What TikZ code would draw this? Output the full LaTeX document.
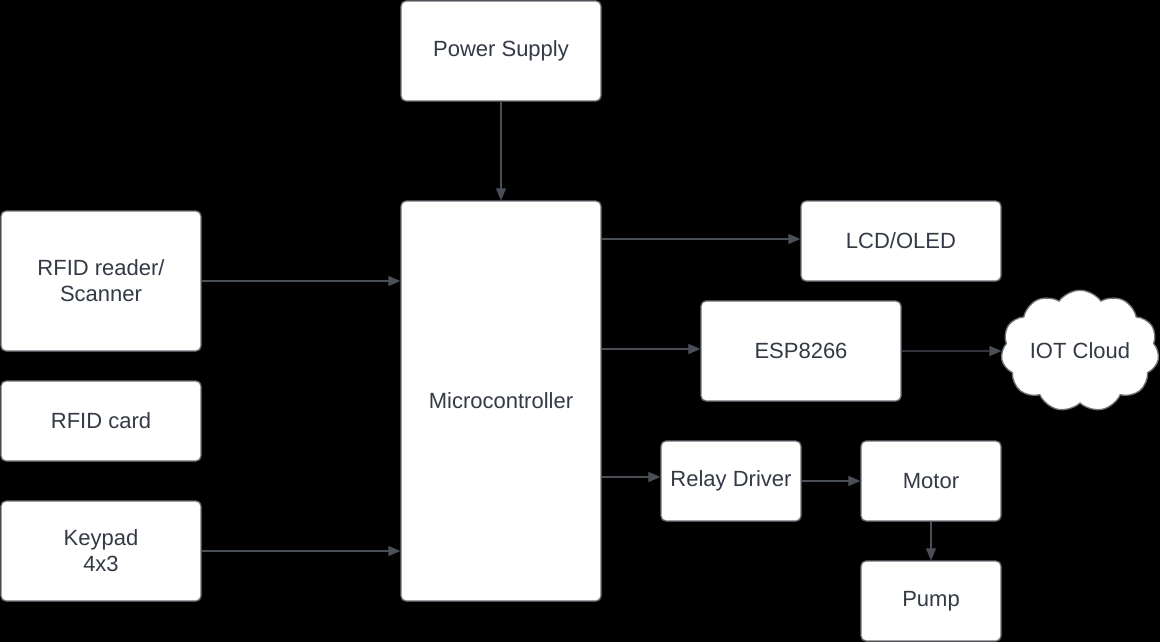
\documentclass[tikz,border=0pt]{standalone}
\usepackage{fontspec}
\setmainfont{Liberation Sans}
\usetikzlibrary{arrows.meta,shapes.symbols}
\definecolor{boxline}{HTML}{6B6F76}
\definecolor{txt}{HTML}{333A45}
\definecolor{arr}{HTML}{4A4F58}
\tikzset{
  blk/.style={draw=boxline, line width=1.3pt, fill=white, rounded corners=5pt,
    inner sep=0pt, text=txt, align=center, font=\fontsize{22pt}{26pt}\selectfont},
  conn/.style={draw=arr, line width=1.1pt, -{Triangle[length=12pt,width=10pt]}},
}
\begin{document}
\begin{tikzpicture}[x=1pt,y=-1pt]
\fill[black] (0,0) rectangle (1160,642);
\useasboundingbox (0,0) rectangle (1160,642);
\node[blk, minimum width=200pt, minimum height=100pt] (ps) at (501,51) {Power Supply};
\node[blk, minimum width=200pt, minimum height=400pt] (mc) at (501,401) {Microcontroller};
\node[blk, minimum width=200pt, minimum height=140pt] (rfid) at (101,281) {RFID reader/\\Scanner};
\node[blk, minimum width=200pt, minimum height=80pt] (card) at (101,421) {RFID card};
\node[blk, minimum width=200pt, minimum height=100pt] (kp) at (101,551) {Keypad\\4x3};
\node[blk, minimum width=200pt, minimum height=80pt] (lcd) at (901,241) {LCD/OLED};
\node[blk, minimum width=200pt, minimum height=100pt] (esp) at (801,351) {ESP8266};
\node[blk, cloud, cloud puffs=11, cloud puff arc=110, aspect=1.35, rounded corners=0pt,
  minimum width=158pt, minimum height=116pt] (cloud) at (1080,351) {IOT Cloud};
\node[blk, minimum width=140pt, minimum height=80pt] (relay) at (731,481) {Relay Driver};
\node[blk, minimum width=140pt, minimum height=80pt] (motor) at (931,481) {Motor};
\node[blk, minimum width=140pt, minimum height=80pt] (pump) at (931,601) {Pump};

\draw[conn] (ps.south) -- (mc.north);
\draw[conn] (rfid.east) -- (mc.west |- rfid.east);
\draw[conn] (kp.east) -- (mc.west |- kp.east);
\draw[conn] (mc.east |- 0,239) -- (lcd.west |- 0,239);
\draw[conn] (mc.east |- 0,349) -- (esp.west |- 0,349);
\draw[conn] (esp.east) -- (cloud.west);
\draw[conn] (mc.east |- 0,477) -- (relay.west |- 0,477);
\draw[conn] (relay.east) -- (motor.west);
\draw[conn] (motor.south) -- (pump.north);
\end{tikzpicture}
\end{document}
